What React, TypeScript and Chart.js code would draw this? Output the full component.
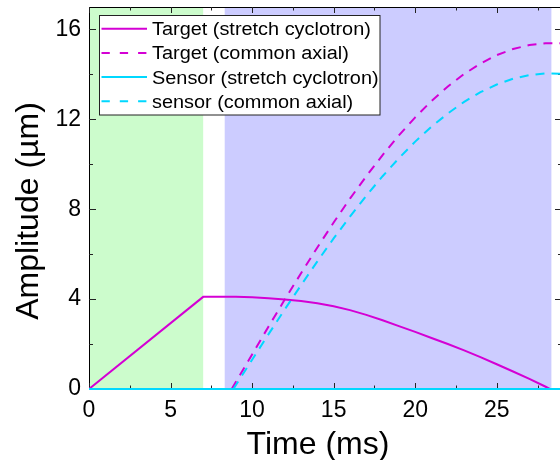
import { useEffect, useRef } from "react";
import { Chart, registerables } from "chart.js";

Chart.register(...registerables);

// ---- data ----
const timeTargetStretch = [0, 7, 8, 9, 10, 11, 12, 13, 14, 15, 16, 17, 18, 19, 20, 21, 22, 23, 24, 25, 26, 27, 28, 28.25, 29];
const targetStretch = [0, 4.1, 4.1, 4.1, 4.08, 4.04, 3.98, 3.92, 3.82, 3.68, 3.51, 3.3, 3.06, 2.8, 2.54, 2.27, 2.0, 1.72, 1.42, 1.1, 0.78, 0.45, 0.1, 0, 0];

const timeTargetAxial = [8.75, 9, 10, 11, 12, 13, 14, 15, 16, 17, 18, 19, 20, 21, 22, 23, 24, 25, 26, 27, 28, 29];
const targetAxial = [0, 0.31, 1.54, 2.77, 3.98, 5.15, 6.3, 7.41, 8.47, 9.47, 10.41, 11.29, 12.09, 12.82, 13.46, 14.02, 14.48, 14.86, 15.13, 15.31, 15.39, 15.38];

const timeSensorStretch = [0, 29];
const sensorStretch = [0, 0];

const timeSensorAxial = [8.85, 9, 10, 11, 12, 13, 14, 15, 16, 17, 18, 19, 20, 21, 22, 23, 24, 25, 26, 27, 28, 29];
const sensorAxial = [0, 0.17, 1.3, 2.43, 3.54, 4.62, 5.68, 6.7, 7.67, 8.6, 9.47, 10.27, 11.01, 11.68, 12.26, 12.78, 13.21, 13.55, 13.81, 13.97, 14.05, 14.03];

const seriesLabels = [
  "Target (stretch cyclotron)",
  "Target (common axial)",
  "Sensor (stretch cyclotron)",
  "sensor (common axial)",
];

const xTicks = [0, 5, 10, 15, 20, 25];
const xMinorTicks = [2.5, 7.5, 12.5, 17.5, 22.5, 27.5];
const yTicks = [0, 4, 8, 12, 16];
const yMinorTicks = [2, 6, 10, 14];
const greenRegion = [0, 7];
const blueRegion = [8.32, 28.35];

const xTitle = "Time (ms)";
const yTitle = "Amplitude (µm)";

const FONT = '"Liberation Sans", Arial, sans-serif';
const TARGET_COLOR = "#d400d4";
const SENSOR_COLOR = "#00d8ff";
const PLOT_DASH = [9, 7];
const LEGEND_DASH = [8.3, 10];

const pts = (xs: number[], ys: number[]) => xs.map((x, i) => ({ x, y: ys[i] }));

const decorPlugin = {
  id: "decor",
  beforeDraw(chart: any) {
    const { ctx, chartArea: a, scales } = chart;
    const x = scales.x;
    ctx.save();
    const g0 = x.getPixelForValue(greenRegion[0]);
    const g1 = x.getPixelForValue(greenRegion[1]);
    ctx.fillStyle = "#ccfccc";
    ctx.fillRect(g0, a.top, g1 - g0, a.bottom - a.top);
    const b0 = x.getPixelForValue(blueRegion[0]);
    const b1 = x.getPixelForValue(blueRegion[1]);
    ctx.fillStyle = "#ccccff";
    ctx.fillRect(b0, a.top, b1 - b0, a.bottom - a.top);
    ctx.restore();
  },
  beforeDatasetsDraw(chart: any) {
    const { ctx, chartArea: a, scales } = chart;
    const x = scales.x;
    const y = scales.y;
    ctx.save();
    ctx.strokeStyle = "#000";
    ctx.lineWidth = 1;
    ctx.strokeRect(Math.round(a.left) + 0.5, Math.round(a.top) + 0.5, Math.round(a.right - a.left), Math.round(a.bottom - a.top));
    ctx.strokeStyle = "#222";
    const vtick = (v: number, len: number) => {
      const px = Math.round(x.getPixelForValue(v)) + 0.5;
      ctx.beginPath();
      ctx.moveTo(px, a.bottom);
      ctx.lineTo(px, a.bottom - len);
      ctx.moveTo(px, a.top);
      ctx.lineTo(px, a.top + len);
      ctx.stroke();
    };
    const htick = (v: number, len: number) => {
      const py = Math.round(y.getPixelForValue(v)) + 0.5;
      ctx.beginPath();
      ctx.moveTo(a.left, py);
      ctx.lineTo(a.left + len, py);
      ctx.moveTo(a.right, py);
      ctx.lineTo(a.right - len, py);
      ctx.stroke();
    };
    xTicks.forEach((v) => vtick(v, 6));
    xMinorTicks.forEach((v) => vtick(v, 3.5));
    yTicks.forEach((v) => htick(v, 7));
    yMinorTicks.forEach((v) => htick(v, 4));
    ctx.restore();
  },
  afterDraw(chart: any) {
    const { ctx } = chart;
    ctx.save();
    // axis titles
    ctx.fillStyle = "#000";
    ctx.font = `32px ${FONT}`;
    ctx.textAlign = "center";
    ctx.textBaseline = "alphabetic";
    ctx.fillText(xTitle, 318, 454);
    ctx.save();
    ctx.translate(37.5, 211);
    ctx.rotate(-Math.PI / 2);
    ctx.fillText(yTitle, 0, 0);
    ctx.restore();

    // legend
    const lx = 99.5, ly = 15.5, lw = 280.5, lh = 99.5;
    ctx.fillStyle = "#fff";
    ctx.fillRect(lx, ly, lw, lh);
    ctx.strokeStyle = "#222";
    ctx.lineWidth = 1;
    ctx.strokeRect(lx, ly, lw, lh);
    ctx.font = `18px ${FONT}`;
    ctx.textAlign = "left";
    ctx.textBaseline = "alphabetic";
    chart.data.datasets.forEach((ds: any, i: number) => {
      const ry = 28.7 + i * 24.2;
      ctx.beginPath();
      ctx.strokeStyle = ds.borderColor;
      ctx.lineWidth = 2;
      ctx.setLineDash(ds.borderDash && ds.borderDash.length ? LEGEND_DASH : []);
      ctx.moveTo(101.5, ry);
      ctx.lineTo(147, ry);
      ctx.stroke();
      ctx.setLineDash([]);
      ctx.fillStyle = "#000";
      ctx.save();
      ctx.translate(152, ry + 6.5);
      ctx.scale(1.105, 1);
      ctx.fillText(ds.label, 0, 0);
      ctx.restore();
    });
    ctx.restore();
  },
};

export default function App() {
  const ref = useRef<HTMLCanvasElement | null>(null);
  useEffect(() => {
    if (!ref.current) return;
    const chart = new Chart(ref.current, {
      type: "scatter",
      data: {
        datasets: [
          {
            label: seriesLabels[0],
            data: pts(timeTargetStretch, targetStretch),
            borderColor: TARGET_COLOR,
            borderWidth: 2,
            showLine: true,
            pointRadius: 0,
            tension: 0,
            order: 1,
          },
          {
            label: seriesLabels[1],
            data: pts(timeTargetAxial, targetAxial),
            borderColor: TARGET_COLOR,
            borderWidth: 2,
            borderDash: PLOT_DASH,
            showLine: true,
            pointRadius: 0,
            tension: 0,
            order: 1,
          },
          {
            label: seriesLabels[2],
            data: pts(timeSensorStretch, sensorStretch),
            borderColor: SENSOR_COLOR,
            borderWidth: 2,
            showLine: true,
            pointRadius: 0,
            tension: 0,
            order: 0,
            clip: 4,
          },
          {
            label: seriesLabels[3],
            data: pts(timeSensorAxial, sensorAxial),
            borderColor: SENSOR_COLOR,
            borderWidth: 2,
            borderDash: PLOT_DASH,
            showLine: true,
            pointRadius: 0,
            tension: 0,
            order: 0,
          },
        ] as any,
      },
      options: {
        responsive: false,
        maintainAspectRatio: false,
        animation: false,
        devicePixelRatio: 1,
        layout: { padding: { top: 7, right: 8, left: 0, bottom: 0 } },
        plugins: { legend: { display: false }, tooltip: { enabled: false } },
        scales: {
          x: {
            type: "linear",
            min: 0,
            max: 29,
            grid: { display: false, drawTicks: false },
            border: { display: false },
            ticks: { color: "#000", font: { size: 23, family: FONT }, padding: 8 },
            afterBuildTicks: (s: any) => {
              s.ticks = xTicks.map((v) => ({ value: v }));
            },
            afterFit: (s: any) => {
              s.height = 71;
              s.paddingLeft = 0;
              s.paddingRight = 0;
            },
          },
          y: {
            type: "linear",
            min: 0,
            max: 17,
            grid: { display: false, drawTicks: false },
            border: { display: false },
            ticks: { color: "#000", font: { size: 23, family: FONT }, padding: 8 },
            afterBuildTicks: (s: any) => {
              s.ticks = yTicks.map((v) => ({ value: v }));
            },
            afterFit: (s: any) => {
              s.width = 89;
              s.paddingTop = 0;
              s.paddingBottom = 0;
            },
          },
        },
      } as any,
      plugins: [decorPlugin],
    });
    return () => chart.destroy();
  }, []);

  return (
    <div style={{ position: "absolute", left: 0, top: 0, width: 560, height: 460, overflow: "hidden", background: "#fff" }}>
      <canvas ref={ref} width={570} height={460} style={{ display: "block" }} />
    </div>
  );
}
